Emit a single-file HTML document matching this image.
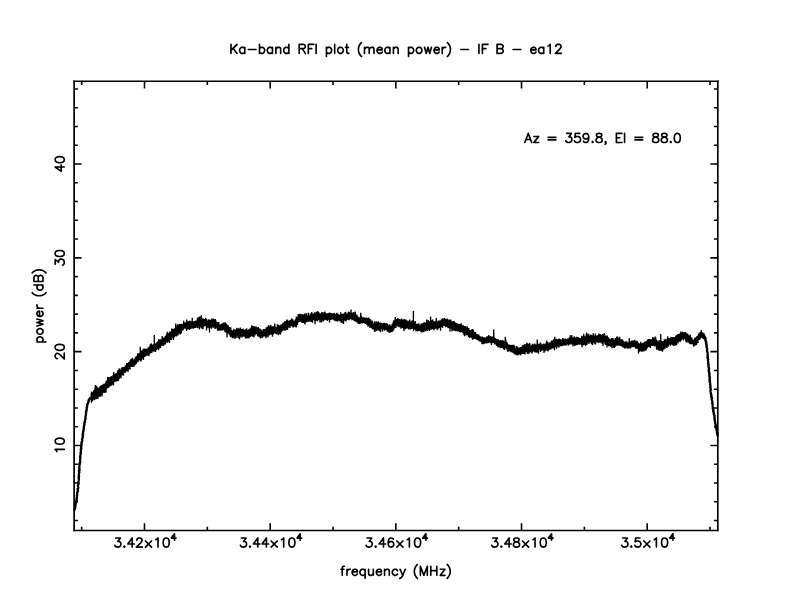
<!DOCTYPE html>
<html><head><meta charset="utf-8"><title>Ka-band RFI plot</title><style>
html,body{margin:0;padding:0;background:#fff;}
svg{display:block;}
</style></head><body>
<svg width="792" height="612" viewBox="0 0 792 612">
<rect width="792" height="612" fill="#fff"/>
<path d="M230.98 44.33L230.98 53.40M237.02 44.33L230.98 50.38M233.14 48.22L237.02 53.40M244.80 47.35L244.80 53.40M244.80 48.65L243.94 47.78L243.07 47.35L241.78 47.35L240.91 47.78L240.05 48.65L239.62 49.94L239.62 50.81L240.05 52.10L240.91 52.97L241.78 53.40L243.07 53.40L243.94 52.97L244.80 52.10M248.26 49.51L256.03 49.51M259.49 44.33L259.49 53.40M259.49 48.65L260.35 47.78L261.22 47.35L262.51 47.35L263.38 47.78L264.24 48.65L264.67 49.94L264.67 50.81L264.24 52.10L263.38 52.97L262.51 53.40L261.22 53.40L260.35 52.97L259.49 52.10M272.45 47.35L272.45 53.40M272.45 48.65L271.58 47.78L270.72 47.35L269.42 47.35L268.56 47.78L267.70 48.65L267.26 49.94L267.26 50.81L267.70 52.10L268.56 52.97L269.42 53.40L270.72 53.40L271.58 52.97L272.45 52.10M275.90 47.35L275.90 53.40M275.90 49.08L277.20 47.78L278.06 47.35L279.36 47.35L280.22 47.78L280.66 49.08L280.66 53.40M288.86 44.33L288.86 53.40M288.86 48.65L288.00 47.78L287.14 47.35L285.84 47.35L284.98 47.78L284.11 48.65L283.68 49.94L283.68 50.81L284.11 52.10L284.98 52.97L285.84 53.40L287.14 53.40L288.00 52.97L288.86 52.10M299.23 44.33L299.23 53.40M299.23 44.33L303.12 44.33L304.42 44.76L304.85 45.19L305.28 46.06L305.28 46.92L304.85 47.78L304.42 48.22L303.12 48.65L299.23 48.65M302.26 48.65L305.28 53.40M308.30 44.33L308.30 53.40M308.30 44.33L313.92 44.33M308.30 48.65L311.76 48.65M316.08 44.33L316.08 53.40M326.45 47.35L326.45 56.42M326.45 48.65L327.31 47.78L328.18 47.35L329.47 47.35L330.34 47.78L331.20 48.65L331.63 49.94L331.63 50.81L331.20 52.10L330.34 52.97L329.47 53.40L328.18 53.40L327.31 52.97L326.45 52.10M334.66 44.33L334.66 53.40M339.84 47.35L338.98 47.78L338.11 48.65L337.68 49.94L337.68 50.81L338.11 52.10L338.98 52.97L339.84 53.40L341.14 53.40L342.00 52.97L342.86 52.10L343.30 50.81L343.30 49.94L342.86 48.65L342.00 47.78L341.14 47.35L339.84 47.35M346.75 44.33L346.75 51.67L347.18 52.97L348.05 53.40L348.91 53.40M345.46 47.35L348.48 47.35M361.44 42.60L360.58 43.46L359.71 44.76L358.85 46.49L358.42 48.65L358.42 50.38L358.85 52.54L359.71 54.26L360.58 55.56L361.44 56.42M364.46 47.35L364.46 53.40M364.46 49.08L365.76 47.78L366.62 47.35L367.92 47.35L368.78 47.78L369.22 49.08L369.22 53.40M369.22 49.08L370.51 47.78L371.38 47.35L372.67 47.35L373.54 47.78L373.97 49.08L373.97 53.40M376.99 49.94L382.18 49.94L382.18 49.08L381.74 48.22L381.31 47.78L380.45 47.35L379.15 47.35L378.29 47.78L377.42 48.65L376.99 49.94L376.99 50.81L377.42 52.10L378.29 52.97L379.15 53.40L380.45 53.40L381.31 52.97L382.18 52.10M389.95 47.35L389.95 53.40M389.95 48.65L389.09 47.78L388.22 47.35L386.93 47.35L386.06 47.78L385.20 48.65L384.77 49.94L384.77 50.81L385.20 52.10L386.06 52.97L386.93 53.40L388.22 53.40L389.09 52.97L389.95 52.10M393.41 47.35L393.41 53.40M393.41 49.08L394.70 47.78L395.57 47.35L396.86 47.35L397.73 47.78L398.16 49.08L398.16 53.40M408.53 47.35L408.53 56.42M408.53 48.65L409.39 47.78L410.26 47.35L411.55 47.35L412.42 47.78L413.28 48.65L413.71 49.94L413.71 50.81L413.28 52.10L412.42 52.97L411.55 53.40L410.26 53.40L409.39 52.97L408.53 52.10M418.46 47.35L417.60 47.78L416.74 48.65L416.30 49.94L416.30 50.81L416.74 52.10L417.60 52.97L418.46 53.40L419.76 53.40L420.62 52.97L421.49 52.10L421.92 50.81L421.92 49.94L421.49 48.65L420.62 47.78L419.76 47.35L418.46 47.35M424.51 47.35L426.24 53.40M427.97 47.35L426.24 53.40M427.97 47.35L429.70 53.40M431.42 47.35L429.70 53.40M434.02 49.94L439.20 49.94L439.20 49.08L438.77 48.22L438.34 47.78L437.47 47.35L436.18 47.35L435.31 47.78L434.45 48.65L434.02 49.94L434.02 50.81L434.45 52.10L435.31 52.97L436.18 53.40L437.47 53.40L438.34 52.97L439.20 52.10M442.22 47.35L442.22 53.40M442.22 49.94L442.66 48.65L443.52 47.78L444.38 47.35L445.68 47.35M447.41 42.60L448.27 43.46L449.14 44.76L450.00 46.49L450.43 48.65L450.43 50.38L450.00 52.54L449.14 54.26L448.27 55.56L447.41 56.42M460.80 49.51L468.58 49.51M478.94 44.33L478.94 53.40M482.40 44.33L482.40 53.40M482.40 44.33L488.02 44.33M482.40 48.65L485.86 48.65M497.09 44.33L497.09 53.40M497.09 44.33L500.98 44.33L502.27 44.76L502.70 45.19L503.14 46.06L503.14 46.92L502.70 47.78L502.27 48.22L500.98 48.65M497.09 48.65L500.98 48.65L502.27 49.08L502.70 49.51L503.14 50.38L503.14 51.67L502.70 52.54L502.27 52.97L500.98 53.40L497.09 53.40M513.07 49.51L520.85 49.51M530.78 49.94L535.97 49.94L535.97 49.08L535.54 48.22L535.10 47.78L534.24 47.35L532.94 47.35L532.08 47.78L531.22 48.65L530.78 49.94L530.78 50.81L531.22 52.10L532.08 52.97L532.94 53.40L534.24 53.40L535.10 52.97L535.97 52.10M543.74 47.35L543.74 53.40M543.74 48.65L542.88 47.78L542.02 47.35L540.72 47.35L539.86 47.78L538.99 48.65L538.56 49.94L538.56 50.81L538.99 52.10L539.86 52.97L540.72 53.40L542.02 53.40L542.88 52.97L543.74 52.10M548.06 46.06L548.93 45.62L550.22 44.33L550.22 53.40M555.84 46.49L555.84 46.06L556.27 45.19L556.70 44.76L557.57 44.33L559.30 44.33L560.16 44.76L560.59 45.19L561.02 46.06L561.02 46.92L560.59 47.78L559.73 49.08L555.41 53.40L561.46 53.40M344.38 566.23L343.51 566.23L342.65 566.66L342.22 567.96L342.22 575.30M340.92 569.25L343.94 569.25M346.97 569.25L346.97 575.30M346.97 571.84L347.40 570.55L348.26 569.68L349.13 569.25L350.42 569.25M352.15 571.84L357.34 571.84L357.34 570.98L356.90 570.12L356.47 569.68L355.61 569.25L354.31 569.25L353.45 569.68L352.58 570.55L352.15 571.84L352.15 572.71L352.58 574.00L353.45 574.87L354.31 575.30L355.61 575.30L356.47 574.87L357.34 574.00M365.11 569.25L365.11 578.32M365.11 570.55L364.25 569.68L363.38 569.25L362.09 569.25L361.22 569.68L360.36 570.55L359.93 571.84L359.93 572.71L360.36 574.00L361.22 574.87L362.09 575.30L363.38 575.30L364.25 574.87L365.11 574.00M368.57 569.25L368.57 573.57L369.00 574.87L369.86 575.30L371.16 575.30L372.02 574.87L373.32 573.57M373.32 569.25L373.32 575.30M376.34 571.84L381.53 571.84L381.53 570.98L381.10 570.12L380.66 569.68L379.80 569.25L378.50 569.25L377.64 569.68L376.78 570.55L376.34 571.84L376.34 572.71L376.78 574.00L377.64 574.87L378.50 575.30L379.80 575.30L380.66 574.87L381.53 574.00M384.55 569.25L384.55 575.30M384.55 570.98L385.85 569.68L386.71 569.25L388.01 569.25L388.87 569.68L389.30 570.98L389.30 575.30M397.51 570.55L396.65 569.68L395.78 569.25L394.49 569.25L393.62 569.68L392.76 570.55L392.33 571.84L392.33 572.71L392.76 574.00L393.62 574.87L394.49 575.30L395.78 575.30L396.65 574.87L397.51 574.00M400.10 569.25L402.70 575.30M405.29 569.25L402.70 575.30L401.83 577.03L400.97 577.89L400.10 578.32L399.67 578.32M417.38 564.50L416.52 565.36L415.66 566.66L414.79 568.39L414.36 570.55L414.36 572.28L414.79 574.44L415.66 576.16L416.52 577.46L417.38 578.32M420.41 566.23L420.41 575.30M420.41 566.23L423.86 575.30M427.32 566.23L423.86 575.30M427.32 566.23L427.32 575.30M430.78 566.23L430.78 575.30M436.82 566.23L436.82 575.30M430.78 570.55L436.82 570.55M445.03 569.25L440.28 575.30M440.28 569.25L445.03 569.25M440.28 575.30L445.03 575.30M447.19 564.50L448.06 565.36L448.92 566.66L449.78 568.39L450.22 570.55L450.22 572.28L449.78 574.44L448.92 576.16L448.06 577.46L447.19 578.32M528.25 133.43L524.79 142.50M528.25 133.43L531.70 142.50M526.09 139.48L530.41 139.48M538.62 136.45L533.86 142.50M533.86 136.45L538.62 136.45M533.86 142.50L538.62 142.50M548.12 137.32L555.90 137.32M548.12 139.91L555.90 139.91M566.70 133.43L571.45 133.43L568.86 136.88L570.15 136.88L571.02 137.32L571.45 137.75L571.88 139.04L571.88 139.91L571.45 141.20L570.58 142.07L569.29 142.50L567.99 142.50L566.70 142.07L566.26 141.64L565.83 140.77M579.66 133.43L575.34 133.43L574.90 137.32L575.34 136.88L576.63 136.45L577.93 136.45L579.22 136.88L580.09 137.75L580.52 139.04L580.52 139.91L580.09 141.20L579.22 142.07L577.93 142.50L576.63 142.50L575.34 142.07L574.90 141.64L574.47 140.77M588.73 136.45L588.30 137.75L587.43 138.61L586.14 139.04L585.70 139.04L584.41 138.61L583.54 137.75L583.11 136.45L583.11 136.02L583.54 134.72L584.41 133.86L585.70 133.43L586.14 133.43L587.43 133.86L588.30 134.72L588.73 136.45L588.73 138.61L588.30 140.77L587.43 142.07L586.14 142.50L585.27 142.50L583.98 142.07L583.54 141.20M592.62 141.64L592.18 142.07L592.62 142.50L593.05 142.07L592.62 141.64M598.23 133.43L596.94 133.86L596.50 134.72L596.50 135.59L596.94 136.45L597.80 136.88L599.53 137.32L600.82 137.75L601.69 138.61L602.12 139.48L602.12 140.77L601.69 141.64L601.26 142.07L599.96 142.50L598.23 142.50L596.94 142.07L596.50 141.64L596.07 140.77L596.07 139.48L596.50 138.61L597.37 137.75L598.66 137.32L600.39 136.88L601.26 136.45L601.69 135.59L601.69 134.72L601.26 133.86L599.96 133.43L598.23 133.43M606.01 142.07L605.58 142.50L605.14 142.07L605.58 141.64L606.01 142.07L606.01 142.93L605.58 143.80L605.14 144.23M616.38 133.43L616.38 142.50M616.38 133.43L621.99 133.43M616.38 137.75L619.83 137.75M616.38 142.50L621.99 142.50M624.58 133.43L624.58 142.50M634.95 137.32L642.73 137.32M634.95 139.91L642.73 139.91M654.82 133.43L653.53 133.86L653.10 134.72L653.10 135.59L653.53 136.45L654.39 136.88L656.12 137.32L657.42 137.75L658.28 138.61L658.71 139.48L658.71 140.77L658.28 141.64L657.85 142.07L656.55 142.50L654.82 142.50L653.53 142.07L653.10 141.64L652.66 140.77L652.66 139.48L653.10 138.61L653.96 137.75L655.26 137.32L656.98 136.88L657.85 136.45L658.28 135.59L658.28 134.72L657.85 133.86L656.55 133.43L654.82 133.43M663.46 133.43L662.17 133.86L661.74 134.72L661.74 135.59L662.17 136.45L663.03 136.88L664.76 137.32L666.06 137.75L666.92 138.61L667.35 139.48L667.35 140.77L666.92 141.64L666.49 142.07L665.19 142.50L663.46 142.50L662.17 142.07L661.74 141.64L661.30 140.77L661.30 139.48L661.74 138.61L662.60 137.75L663.90 137.32L665.62 136.88L666.49 136.45L666.92 135.59L666.92 134.72L666.49 133.86L665.19 133.43L663.46 133.43M670.81 141.64L670.38 142.07L670.81 142.50L671.24 142.07L670.81 141.64M676.86 133.43L675.56 133.86L674.70 135.16L674.26 137.32L674.26 138.61L674.70 140.77L675.56 142.07L676.86 142.50L677.72 142.50L679.02 142.07L679.88 140.77L680.31 138.61L680.31 137.32L679.88 135.16L679.02 133.86L677.72 133.43L676.86 133.43M115.68 537.98L120.43 537.98L117.84 541.43L119.14 541.43L120.00 541.87L120.43 542.30L120.86 543.59L120.86 544.46L120.43 545.75L119.57 546.62L118.27 547.05L116.98 547.05L115.68 546.62L115.25 546.19L114.82 545.32M124.32 546.19L123.89 546.62L124.32 547.05L124.75 546.62L124.32 546.19M132.10 537.98L127.78 544.03L134.26 544.03M132.10 537.98L132.10 547.05M136.85 540.14L136.85 539.71L137.28 538.84L137.71 538.41L138.58 537.98L140.30 537.98L141.17 538.41L141.60 538.84L142.03 539.71L142.03 540.57L141.60 541.43L140.74 542.73L136.42 547.05L142.46 547.05M145.49 541.00L151.54 547.05M151.54 541.00L145.49 547.05M155.86 539.71L156.72 539.27L158.02 537.98L158.02 547.05M165.79 537.98L164.50 538.41L163.63 539.71L163.20 541.87L163.20 543.16L163.63 545.32L164.50 546.62L165.79 547.05L166.66 547.05L167.95 546.62L168.82 545.32L169.25 543.16L169.25 541.87L168.82 539.71L167.95 538.41L166.66 537.98L165.79 537.98M174.53 533.81L171.46 538.10L176.07 538.10M174.53 533.81L174.53 540.25M241.36 537.98L246.11 537.98L243.52 541.43L244.81 541.43L245.68 541.87L246.11 542.30L246.54 543.59L246.54 544.46L246.11 545.75L245.24 546.62L243.95 547.05L242.65 547.05L241.36 546.62L240.92 546.19L240.49 545.32M250.00 546.19L249.56 546.62L250.00 547.05L250.43 546.62L250.00 546.19M257.77 537.98L253.45 544.03L259.93 544.03M257.77 537.98L257.77 547.05M266.41 537.98L262.09 544.03L268.57 544.03M266.41 537.98L266.41 547.05M271.16 541.00L277.21 547.05M277.21 541.00L271.16 547.05M281.53 539.71L282.40 539.27L283.69 537.98L283.69 547.05M291.47 537.98L290.17 538.41L289.31 539.71L288.88 541.87L288.88 543.16L289.31 545.32L290.17 546.62L291.47 547.05L292.33 547.05L293.63 546.62L294.49 545.32L294.92 543.16L294.92 541.87L294.49 539.71L293.63 538.41L292.33 537.98L291.47 537.98M300.21 533.81L297.14 538.10L301.74 538.10M300.21 533.81L300.21 540.25M367.03 537.98L371.78 537.98L369.19 541.43L370.49 541.43L371.35 541.87L371.78 542.30L372.22 543.59L372.22 544.46L371.78 545.75L370.92 546.62L369.62 547.05L368.33 547.05L367.03 546.62L366.60 546.19L366.17 545.32M375.67 546.19L375.24 546.62L375.67 547.05L376.10 546.62L375.67 546.19M383.45 537.98L379.13 544.03L385.61 544.03M383.45 537.98L383.45 547.05M393.38 539.27L392.95 538.41L391.66 537.98L390.79 537.98L389.50 538.41L388.63 539.71L388.20 541.87L388.20 544.03L388.63 545.75L389.50 546.62L390.79 547.05L391.22 547.05L392.52 546.62L393.38 545.75L393.82 544.46L393.82 544.03L393.38 542.73L392.52 541.87L391.22 541.43L390.79 541.43L389.50 541.87L388.63 542.73L388.20 544.03M396.84 541.00L402.89 547.05M402.89 541.00L396.84 547.05M407.21 539.71L408.07 539.27L409.37 537.98L409.37 547.05M417.14 537.98L415.85 538.41L414.98 539.71L414.55 541.87L414.55 543.16L414.98 545.32L415.85 546.62L417.14 547.05L418.01 547.05L419.30 546.62L420.17 545.32L420.60 543.16L420.60 541.87L420.17 539.71L419.30 538.41L418.01 537.98L417.14 537.98M425.88 533.81L422.82 538.10L427.42 538.10M425.88 533.81L425.88 540.25M492.71 537.98L497.46 537.98L494.87 541.43L496.16 541.43L497.03 541.87L497.46 542.30L497.89 543.59L497.89 544.46L497.46 545.75L496.60 546.62L495.30 547.05L494.00 547.05L492.71 546.62L492.28 546.19L491.84 545.32M501.35 546.19L500.92 546.62L501.35 547.05L501.78 546.62L501.35 546.19M509.12 537.98L504.80 544.03L511.28 544.03M509.12 537.98L509.12 547.05M515.60 537.98L514.31 538.41L513.88 539.27L513.88 540.14L514.31 541.00L515.17 541.43L516.90 541.87L518.20 542.30L519.06 543.16L519.49 544.03L519.49 545.32L519.06 546.19L518.63 546.62L517.33 547.05L515.60 547.05L514.31 546.62L513.88 546.19L513.44 545.32L513.44 544.03L513.88 543.16L514.74 542.30L516.04 541.87L517.76 541.43L518.63 541.00L519.06 540.14L519.06 539.27L518.63 538.41L517.33 537.98L515.60 537.98M522.52 541.00L528.56 547.05M528.56 541.00L522.52 547.05M532.88 539.71L533.75 539.27L535.04 537.98L535.04 547.05M542.82 537.98L541.52 538.41L540.66 539.71L540.23 541.87L540.23 543.16L540.66 545.32L541.52 546.62L542.82 547.05L543.68 547.05L544.98 546.62L545.84 545.32L546.28 543.16L546.28 541.87L545.84 539.71L544.98 538.41L543.68 537.98L542.82 537.98M551.56 533.81L548.49 538.10L553.09 538.10M551.56 533.81L551.56 540.25M622.70 537.98L627.46 537.98L624.86 541.43L626.16 541.43L627.02 541.87L627.46 542.30L627.89 543.59L627.89 544.46L627.46 545.75L626.59 546.62L625.30 547.05L624.00 547.05L622.70 546.62L622.27 546.19L621.84 545.32M631.34 546.19L630.91 546.62L631.34 547.05L631.78 546.62L631.34 546.19M639.98 537.98L635.66 537.98L635.23 541.87L635.66 541.43L636.96 541.00L638.26 541.00L639.55 541.43L640.42 542.30L640.85 543.59L640.85 544.46L640.42 545.75L639.55 546.62L638.26 547.05L636.96 547.05L635.66 546.62L635.23 546.19L634.80 545.32M643.87 541.00L649.92 547.05M649.92 541.00L643.87 547.05M654.24 539.71L655.10 539.27L656.40 537.98L656.40 547.05M664.18 537.98L662.88 538.41L662.02 539.71L661.58 541.87L661.58 543.16L662.02 545.32L662.88 546.62L664.18 547.05L665.04 547.05L666.34 546.62L667.20 545.32L667.63 543.16L667.63 541.87L667.20 539.71L666.34 538.41L665.04 537.98L664.18 537.98M672.92 533.81L669.85 538.10L674.45 538.10M672.92 533.81L672.92 540.25M56.91 451.54L56.47 450.67L55.18 449.38L64.25 449.38M55.18 441.60L55.61 442.90L56.91 443.76L59.07 444.19L60.36 444.19L62.52 443.76L63.82 442.90L64.25 441.60L64.25 440.74L63.82 439.44L62.52 438.58L60.36 438.15L59.07 438.15L56.91 438.58L55.61 439.44L55.18 440.74L55.18 441.60M57.34 358.57L56.91 358.57L56.04 358.14L55.61 357.71L55.18 356.84L55.18 355.12L55.61 354.25L56.04 353.82L56.91 353.39L57.77 353.39L58.63 353.82L59.93 354.68L64.25 359.00L64.25 352.96M55.18 347.77L55.61 349.07L56.91 349.93L59.07 350.36L60.36 350.36L62.52 349.93L63.82 349.07L64.25 347.77L64.25 346.91L63.82 345.61L62.52 344.75L60.36 344.32L59.07 344.32L56.91 344.75L55.61 345.61L55.18 346.91L55.18 347.77M55.18 264.31L55.18 259.56L58.63 262.15L58.63 260.85L59.07 259.99L59.50 259.56L60.79 259.13L61.66 259.13L62.95 259.56L63.82 260.42L64.25 261.72L64.25 263.01L63.82 264.31L63.39 264.74L62.52 265.17M55.18 253.94L55.61 255.24L56.91 256.10L59.07 256.53L60.36 256.53L62.52 256.10L63.82 255.24L64.25 253.94L64.25 253.08L63.82 251.78L62.52 250.92L60.36 250.49L59.07 250.49L56.91 250.92L55.61 251.78L55.18 253.08L55.18 253.94M55.18 167.02L61.23 171.34L61.23 164.86M55.18 167.02L64.25 167.02M55.18 160.11L55.61 161.41L56.91 162.27L59.07 162.70L60.36 162.70L62.52 162.27L63.82 161.41L64.25 160.11L64.25 159.25L63.82 157.95L62.52 157.09L60.36 156.66L59.07 156.66L56.91 157.09L55.61 157.95L55.18 159.25L55.18 160.11M36.95 341.97L46.02 341.97M38.25 341.97L37.38 341.11L36.95 340.24L36.95 338.95L37.38 338.08L38.25 337.22L39.54 336.79L40.41 336.79L41.70 337.22L42.57 338.08L43.00 338.95L43.00 340.24L42.57 341.11L41.70 341.97M36.95 332.04L37.38 332.90L38.25 333.76L39.54 334.20L40.41 334.20L41.70 333.76L42.57 332.90L43.00 332.04L43.00 330.74L42.57 329.88L41.70 329.01L40.41 328.58L39.54 328.58L38.25 329.01L37.38 329.88L36.95 330.74L36.95 332.04M36.95 325.99L43.00 324.26M36.95 322.53L43.00 324.26M36.95 322.53L43.00 320.80M36.95 319.08L43.00 320.80M39.54 316.48L39.54 311.30L38.68 311.30L37.82 311.73L37.38 312.16L36.95 313.03L36.95 314.32L37.38 315.19L38.25 316.05L39.54 316.48L40.41 316.48L41.70 316.05L42.57 315.19L43.00 314.32L43.00 313.03L42.57 312.16L41.70 311.30M36.95 308.28L43.00 308.28M39.54 308.28L38.25 307.84L37.38 306.98L36.95 306.12L36.95 304.82M32.20 292.72L33.06 293.59L34.36 294.45L36.09 295.32L38.25 295.75L39.98 295.75L42.14 295.32L43.86 294.45L45.16 293.59L46.02 292.72M33.93 284.95L43.00 284.95M38.25 284.95L37.38 285.81L36.95 286.68L36.95 287.97L37.38 288.84L38.25 289.70L39.54 290.13L40.41 290.13L41.70 289.70L42.57 288.84L43.00 287.97L43.00 286.68L42.57 285.81L41.70 284.95M33.93 281.49L43.00 281.49M33.93 281.49L33.93 277.60L34.36 276.31L34.79 275.88L35.66 275.44L36.52 275.44L37.38 275.88L37.82 276.31L38.25 277.60M38.25 281.49L38.25 277.60L38.68 276.31L39.11 275.88L39.98 275.44L41.27 275.44L42.14 275.88L42.57 276.31L43.00 277.60L43.00 281.49M32.20 272.85L33.06 271.99L34.36 271.12L36.09 270.26L38.25 269.83L39.98 269.83L42.14 270.26L43.86 271.12L45.16 271.99L46.02 272.85" fill="none" stroke="#000" stroke-width="1.65" stroke-linecap="round" stroke-linejoin="round"/>
<path d="M74.1 80.45V531.20M717.8 80.45V531.20" fill="none" stroke="#000" stroke-width="1.7"/>
<path d="M73.25 81.25H718.65" fill="none" stroke="#000" stroke-width="1.55"/>
<path d="M73.25 530.5H718.65" fill="none" stroke="#000" stroke-width="1.4"/>
<path d="M81.66 530.50V526.70M81.66 81.25V85.05M144.50 530.50V523.30M144.50 81.25V88.45M207.34 530.50V526.70M207.34 81.25V85.05M270.18 530.50V523.30M270.18 81.25V88.45M333.01 530.50V526.70M333.01 81.25V85.05M395.85 530.50V523.30M395.85 81.25V88.45M458.69 530.50V526.70M458.69 81.25V85.05M521.53 530.50V523.30M521.53 81.25V88.45M584.37 530.50V526.70M584.37 81.25V85.05M647.20 530.50V523.30M647.20 81.25V88.45M710.04 530.50V526.70M710.04 81.25V85.05M74.10 520.55H77.90M717.80 520.55H714.00M74.10 501.79H77.90M717.80 501.79H714.00M74.10 483.02H77.90M717.80 483.02H714.00M74.10 464.26H77.90M717.80 464.26H714.00M74.10 445.49H81.50M717.80 445.49H710.40M74.10 426.72H77.90M717.80 426.72H714.00M74.10 407.96H77.90M717.80 407.96H714.00M74.10 389.19H77.90M717.80 389.19H714.00M74.10 370.43H77.90M717.80 370.43H714.00M74.10 351.66H81.50M717.80 351.66H710.40M74.10 332.89H77.90M717.80 332.89H714.00M74.10 314.13H77.90M717.80 314.13H714.00M74.10 295.36H77.90M717.80 295.36H714.00M74.10 276.60H77.90M717.80 276.60H714.00M74.10 257.83H81.50M717.80 257.83H710.40M74.10 239.06H77.90M717.80 239.06H714.00M74.10 220.30H77.90M717.80 220.30H714.00M74.10 201.53H77.90M717.80 201.53H714.00M74.10 182.77H77.90M717.80 182.77H714.00M74.10 164.00H81.50M717.80 164.00H710.40M74.10 145.23H77.90M717.80 145.23H714.00M74.10 126.47H77.90M717.80 126.47H714.00M74.10 107.70H77.90M717.80 107.70H714.00M74.10 88.94H77.90M717.80 88.94H714.00" fill="none" stroke="#000" stroke-width="1.6"/>
<path d="M87.00 406.5 88.50 401.0 90.00 398.0 91.00 400.0 91.25 392.7 91.50 402.7 91.75 391.4 92.00 400.7 92.25 393.2 92.50 401.2 92.75 392.3 93.00 399.9 93.25 392.2 93.50 399.8 93.75 390.3 94.00 399.5 94.25 390.0 94.50 400.3 94.75 388.8 95.00 399.4 95.25 385.1 95.50 398.8 95.75 389.3 96.00 399.1 96.25 385.7 96.50 399.0 96.75 386.6 97.00 396.9 97.25 388.8 97.50 398.4 97.75 387.4 98.00 398.8 98.25 388.6 98.50 396.5 98.75 387.9 99.00 396.4 99.25 388.7 99.50 396.1 99.75 386.5 100.00 397.0 100.25 387.5 100.50 396.1 100.75 385.4 101.00 394.2 101.25 387.9 101.50 393.8 101.75 384.9 102.00 396.6 102.25 385.5 102.50 393.4 102.75 384.4 103.00 393.0 103.25 386.1 103.50 392.4 103.75 383.7 104.00 392.6 104.25 384.1 104.50 392.0 104.75 384.4 105.00 392.9 105.25 383.2 105.50 391.9 105.75 382.1 106.00 392.6 106.25 380.7 106.50 389.0 106.75 381.4 107.00 387.6 107.25 379.8 107.50 388.2 107.75 376.8 108.00 387.6 108.25 379.6 108.50 387.7 108.75 377.9 109.00 387.5 109.25 376.9 109.50 386.1 109.75 379.2 110.00 385.1 110.25 379.1 110.50 386.3 110.75 376.7 111.00 386.1 111.25 375.9 111.50 383.7 111.75 377.9 112.00 384.9 112.25 378.4 112.50 383.6 112.75 375.6 113.00 384.0 113.25 375.2 113.50 385.6 113.75 372.1 114.00 382.3 114.25 375.3 114.50 380.8 114.75 375.5 115.00 381.8 115.25 373.7 115.50 380.9 115.75 374.8 116.00 381.7 116.25 372.9 116.50 380.8 116.75 374.0 117.00 379.6 117.25 373.3 117.50 381.2 117.75 370.4 118.00 378.2 118.25 369.9 118.50 380.8 118.75 370.5 119.00 377.8 119.25 368.3 119.50 378.8 119.75 371.3 120.00 375.9 120.25 370.1 120.50 376.9 120.75 370.7 121.00 378.3 121.25 368.3 121.50 375.5 121.75 368.3 122.00 373.9 122.25 367.0 122.50 375.1 122.75 368.8 123.00 375.1 123.25 367.4 123.50 375.7 123.75 367.1 124.00 372.8 124.25 367.1 124.50 372.8 124.75 367.2 125.00 372.1 125.25 365.8 125.50 372.7 125.75 365.3 126.00 371.4 126.25 366.5 126.50 371.0 126.75 363.0 127.00 370.4 127.25 363.4 127.50 370.8 127.75 363.1 128.00 372.1 128.25 363.3 128.50 370.1 128.75 362.1 129.00 368.6 129.25 361.8 129.50 367.6 129.75 361.9 130.00 369.5 130.25 360.0 130.50 366.4 130.75 359.2 131.00 366.3 131.25 359.6 131.50 367.0 131.75 359.0 132.00 366.4 132.25 357.7 132.50 367.0 132.75 359.8 133.00 365.3 133.25 360.1 133.50 365.2 133.75 359.5 134.00 366.7 134.25 358.8 134.50 365.9 134.75 359.2 135.00 364.5 135.25 357.5 135.50 364.8 135.75 357.2 136.00 363.9 136.25 356.1 136.50 363.4 136.75 356.7 137.00 362.3 137.25 355.9 137.50 361.5 137.75 353.3 138.00 361.9 138.25 353.8 138.50 360.6 138.75 353.6 139.00 359.4 139.25 353.2 139.50 360.3 139.75 353.2 140.00 359.8 140.25 346.7 140.50 361.2 140.75 353.2 141.00 361.4 141.25 350.8 141.50 359.9 141.75 350.4 142.00 357.9 142.25 352.0 142.50 358.7 142.75 349.6 143.00 357.0 143.25 352.1 143.50 360.1 143.75 348.5 144.00 357.1 144.25 348.9 144.50 357.0 144.75 348.6 145.00 355.6 145.25 349.3 145.50 356.4 145.75 349.0 146.00 355.3 146.25 348.7 146.50 355.6 146.75 349.1 147.00 355.2 147.25 348.8 147.50 355.1 147.75 348.6 148.00 355.5 148.25 347.3 148.50 355.6 148.75 347.4 149.00 356.2 149.25 347.3 149.50 353.6 149.75 346.1 150.00 353.8 150.25 344.2 150.50 353.5 150.75 347.6 151.00 353.0 151.25 343.2 151.50 353.0 151.75 344.3 152.00 352.4 152.25 344.8 152.50 351.2 152.75 345.5 153.00 351.0 153.25 344.7 153.50 351.3 153.75 344.0 154.00 351.8 154.25 344.4 154.50 350.5 154.75 344.9 155.00 349.7 155.25 343.4 155.50 351.9 155.75 343.6 156.00 349.7 156.25 344.0 156.50 349.9 156.75 342.3 157.00 348.9 157.25 342.0 157.50 348.4 157.75 341.6 158.00 347.8 158.25 340.4 158.50 350.2 158.75 339.0 159.00 347.5 159.25 342.0 159.50 348.4 159.75 340.1 160.00 347.3 160.25 339.2 160.50 347.9 160.75 339.2 161.00 346.3 161.25 339.9 161.50 344.8 161.75 339.4 162.00 344.9 162.25 336.1 162.50 345.6 162.75 339.3 163.00 344.7 163.25 337.7 163.50 346.0 163.75 337.4 164.00 344.6 164.25 337.4 164.50 343.7 164.75 337.6 165.00 344.7 165.25 336.1 165.50 344.1 165.75 335.4 166.00 341.9 166.25 335.8 166.50 342.2 166.75 333.8 167.00 341.8 167.25 331.7 167.50 342.8 167.75 333.4 168.00 341.5 168.25 333.0 168.50 340.7 168.75 334.2 169.00 342.1 169.25 332.8 169.50 342.9 169.75 331.6 170.00 340.1 170.25 332.1 170.50 340.1 170.75 332.2 171.00 338.8 171.25 331.6 171.50 339.9 171.75 328.4 172.00 337.3 172.25 332.0 172.50 337.7 172.75 329.5 173.00 337.5 173.25 328.8 173.50 340.1 173.75 328.8 174.00 337.4 174.25 329.9 174.50 336.8 174.75 328.2 175.00 335.4 175.25 329.7 175.50 336.3 175.75 323.6 176.00 335.8 176.25 328.2 176.50 336.5 176.75 327.6 177.00 334.2 177.25 325.6 177.50 335.2 177.75 324.3 178.00 335.4 178.25 328.0 178.50 332.8 178.75 325.4 179.00 332.4 179.25 324.0 179.50 333.4 179.75 324.1 180.00 334.5 180.25 324.0 180.50 334.4 180.75 324.5 181.00 330.6 181.25 324.2 181.50 333.2 181.75 323.7 182.00 330.3 182.25 324.7 182.50 329.4 182.75 324.4 183.00 330.4 183.25 323.7 183.50 329.3 183.75 320.7 184.00 328.8 184.25 322.6 184.50 328.4 184.75 323.0 185.00 328.5 185.25 322.8 185.50 327.8 185.75 322.2 186.00 328.7 186.25 323.3 186.50 331.0 186.75 319.4 187.00 328.1 187.25 322.6 187.50 329.4 187.75 322.2 188.00 328.7 188.25 321.3 188.50 329.3 188.75 322.5 189.00 328.6 189.25 320.9 189.50 330.0 189.75 320.5 190.00 329.3 190.25 321.4 190.50 327.0 190.75 322.0 191.00 328.7 191.25 322.2 191.50 327.0 191.75 321.4 192.00 328.6 192.25 317.8 192.50 328.3 192.75 321.6 193.00 326.4 193.25 321.1 193.50 328.7 193.75 321.4 194.00 327.4 194.25 322.3 194.50 326.9 194.75 321.0 195.00 328.0 195.25 321.3 195.50 328.1 195.75 320.5 196.00 327.2 196.25 321.1 196.50 327.5 196.75 321.1 197.00 326.7 197.25 318.5 197.50 328.2 197.75 317.6 198.00 326.1 198.25 317.8 198.50 326.7 198.75 320.1 199.00 328.3 199.25 316.6 199.50 329.6 199.75 319.3 200.00 325.9 200.25 316.8 200.50 327.3 200.75 316.7 201.00 327.4 201.25 315.2 201.50 327.4 201.75 317.5 202.00 328.7 202.25 318.8 202.50 328.6 202.75 318.8 203.00 329.3 203.25 318.4 203.50 327.0 203.75 320.3 204.00 326.2 204.25 319.0 204.50 324.8 204.75 319.2 205.00 326.0 205.25 320.0 205.50 326.0 205.75 317.8 206.00 326.0 206.25 318.9 206.50 330.4 206.75 321.3 207.00 327.3 207.25 320.8 207.50 326.0 207.75 320.6 208.00 328.3 208.25 319.2 208.50 325.8 208.75 319.9 209.00 325.9 209.25 321.1 209.50 332.6 209.75 319.4 210.00 326.0 210.25 320.4 210.50 326.7 210.75 319.9 211.00 328.1 211.25 320.1 211.50 328.8 211.75 318.6 212.00 326.2 212.25 321.1 212.50 326.3 212.75 319.8 213.00 327.6 213.25 318.4 213.50 327.8 213.75 319.1 214.00 327.4 214.25 319.2 214.50 327.2 214.75 319.5 215.00 328.9 215.25 319.0 215.50 328.5 215.75 320.2 216.00 327.0 216.25 321.4 216.50 328.3 216.75 321.8 217.00 327.9 217.25 322.0 217.50 330.0 217.75 322.6 218.00 331.1 218.25 324.0 218.50 329.2 218.75 322.1 219.00 330.4 219.25 324.6 219.50 329.2 219.75 324.7 220.00 330.7 220.25 324.8 220.50 330.4 220.75 324.3 221.00 329.7 221.25 324.1 221.50 330.6 221.75 323.6 222.00 330.5 222.25 324.9 222.50 330.5 222.75 323.3 223.00 329.2 223.25 323.8 223.50 329.5 223.75 322.5 224.00 330.3 224.25 323.7 224.50 330.0 224.75 323.7 225.00 332.1 225.25 322.3 225.50 332.5 225.75 322.9 226.00 330.4 226.25 323.9 226.50 331.2 226.75 324.0 227.00 337.5 227.25 325.2 227.50 333.6 227.75 325.5 228.00 332.7 228.25 325.3 228.50 333.1 228.75 327.7 229.00 334.1 229.25 327.0 229.50 334.8 229.75 328.1 230.00 335.5 230.25 327.4 230.50 337.1 230.75 327.2 231.00 335.7 231.25 330.1 231.50 335.5 231.75 330.2 232.00 337.8 232.25 330.6 232.50 338.3 232.75 331.7 233.00 338.0 233.25 330.3 233.50 337.8 233.75 328.8 234.00 337.7 234.25 330.8 234.50 335.7 234.75 329.9 235.00 338.9 235.25 329.7 235.50 336.5 235.75 329.6 236.00 338.0 236.25 330.3 236.50 335.9 236.75 327.7 237.00 336.6 237.25 329.5 237.50 336.2 237.75 329.9 238.00 337.9 238.25 328.2 238.50 335.9 238.75 328.4 239.00 338.2 239.25 329.2 239.50 339.4 239.75 330.0 240.00 337.4 240.25 327.6 240.50 335.7 240.75 329.5 241.00 335.8 241.25 330.0 241.50 337.5 241.75 328.7 242.00 337.6 242.25 329.0 242.50 336.2 242.75 330.6 243.00 336.3 243.25 328.7 243.50 335.5 243.75 329.7 244.00 336.7 244.25 330.4 244.50 336.8 244.75 329.7 245.00 336.5 245.25 330.8 245.50 338.6 245.75 329.3 246.00 337.1 246.25 330.7 246.50 337.7 246.75 328.2 247.00 338.5 247.25 330.4 247.50 338.0 247.75 330.6 248.00 338.1 248.25 330.0 248.50 335.8 248.75 329.3 249.00 338.4 249.25 329.6 249.50 335.9 249.75 329.7 250.00 335.7 250.25 327.8 250.50 336.9 250.75 329.2 251.00 335.5 251.25 329.4 251.50 335.5 251.75 325.3 252.00 336.2 252.25 326.0 252.50 334.1 252.75 325.9 253.00 336.8 253.25 326.5 253.50 333.8 253.75 325.9 254.00 337.5 254.25 326.4 254.50 334.4 254.75 327.3 255.00 335.6 255.25 326.4 255.50 333.6 255.75 327.9 256.00 332.8 256.25 326.5 256.50 334.0 256.75 328.2 257.00 334.3 257.25 327.6 257.50 336.2 257.75 327.8 258.00 334.3 258.25 326.9 258.50 335.9 258.75 328.1 259.00 337.3 259.25 328.7 259.50 335.6 259.75 330.0 260.00 336.6 260.25 328.7 260.50 338.4 260.75 330.9 261.00 336.3 261.25 329.7 261.50 336.5 261.75 331.0 262.00 337.9 262.25 331.3 262.50 337.4 262.75 330.7 263.00 337.0 263.25 329.1 263.50 336.3 263.75 329.9 264.00 336.2 264.25 329.5 264.50 336.6 264.75 329.1 265.00 335.2 265.25 328.9 265.50 336.4 265.75 330.1 266.00 338.3 266.25 327.6 266.50 336.4 266.75 327.7 267.00 335.3 267.25 326.6 267.50 334.2 267.75 327.4 268.00 337.6 268.25 329.0 268.50 335.0 268.75 325.0 269.00 333.5 269.25 327.2 269.50 335.6 269.75 327.7 270.00 333.2 270.25 326.3 270.50 334.5 270.75 324.8 271.00 334.1 271.25 328.0 271.50 334.8 271.75 327.3 272.00 334.0 272.25 326.2 272.50 336.8 272.75 326.7 273.00 333.1 273.25 326.8 273.50 334.2 273.75 326.1 274.00 333.4 274.25 326.7 274.50 332.9 274.75 323.5 275.00 332.8 275.25 326.7 275.50 333.5 275.75 327.4 276.00 334.1 276.25 327.4 276.50 333.8 276.75 327.3 277.00 334.5 277.25 324.3 277.50 333.8 277.75 327.7 278.00 333.2 278.25 324.7 278.50 335.2 278.75 325.1 279.00 333.0 279.25 326.1 279.50 334.1 279.75 325.6 280.00 334.0 280.25 326.1 280.50 334.6 280.75 324.8 281.00 332.8 281.25 324.4 281.50 332.0 281.75 326.0 282.00 331.0 282.25 324.1 282.50 330.3 282.75 323.4 283.00 330.4 283.25 322.8 283.50 330.6 283.75 322.6 284.00 329.9 284.25 323.7 284.50 330.6 284.75 321.3 285.00 329.0 285.25 323.5 285.50 330.8 285.75 321.2 286.00 329.9 286.25 320.9 286.50 328.5 286.75 319.5 287.00 329.3 287.25 320.8 287.50 329.9 287.75 319.8 288.00 327.8 288.25 322.2 288.50 327.5 288.75 321.0 289.00 325.7 289.25 321.2 289.50 327.5 289.75 320.4 290.00 328.1 290.25 320.0 290.50 326.0 290.75 320.1 291.00 325.6 291.25 319.4 291.50 326.3 291.75 318.2 292.00 325.6 292.25 319.8 292.50 325.9 292.75 319.3 293.00 327.7 293.25 320.4 293.50 327.0 293.75 320.9 294.00 326.6 294.25 321.1 294.50 326.7 294.75 320.9 295.00 326.8 295.25 319.6 295.50 325.6 295.75 319.3 296.00 327.5 296.25 316.4 296.50 327.6 296.75 318.2 297.00 323.3 297.25 318.1 297.50 325.0 297.75 317.1 298.00 322.4 298.25 314.0 298.50 322.1 298.75 315.5 299.00 321.9 299.25 315.9 299.50 321.3 299.75 314.0 300.00 321.8 300.25 313.7 300.50 320.3 300.75 315.9 301.00 321.7 301.25 314.6 301.50 321.7 301.75 315.6 302.00 323.0 302.25 313.9 302.50 322.5 302.75 316.0 303.00 322.9 303.25 314.9 303.50 323.0 303.75 314.6 304.00 322.6 304.25 315.6 304.50 323.6 304.75 313.5 305.00 324.5 305.25 315.8 305.50 321.5 305.75 316.0 306.00 322.5 306.25 313.0 306.50 321.3 306.75 315.4 307.00 321.8 307.25 315.5 307.50 321.7 307.75 315.6 308.00 321.7 308.25 312.8 308.50 322.0 308.75 313.3 309.00 321.0 309.25 316.0 309.50 320.5 309.75 315.7 310.00 321.6 310.25 315.6 310.50 321.0 310.75 313.3 311.00 320.6 311.25 315.2 311.50 321.9 311.75 312.1 312.00 319.6 312.25 313.5 312.50 322.8 312.75 314.7 313.00 320.1 313.25 314.8 313.50 319.7 313.75 313.3 314.00 320.1 314.25 314.2 314.50 319.9 314.75 312.2 315.00 324.3 315.25 314.0 315.50 319.7 315.75 314.0 316.00 321.1 316.25 311.8 316.50 319.6 316.75 314.3 317.00 320.0 317.25 312.1 317.50 321.6 317.75 310.9 318.00 320.3 318.25 314.4 318.50 319.2 318.75 311.9 319.00 320.2 319.25 313.7 319.50 320.0 319.75 314.0 320.00 322.4 320.25 313.2 320.50 320.6 320.75 313.9 321.00 320.6 321.25 313.9 321.50 322.6 321.75 312.0 322.00 321.2 322.25 313.3 322.50 321.2 322.75 314.6 323.00 320.3 323.25 312.3 323.50 321.5 323.75 314.2 324.00 320.3 324.25 314.6 324.50 318.6 324.75 311.5 325.00 319.7 325.25 312.5 325.50 319.5 325.75 313.4 326.00 320.3 326.25 313.9 326.50 319.6 326.75 313.9 327.00 318.2 327.25 313.2 327.50 321.0 327.75 313.4 328.00 319.6 328.25 312.9 328.50 319.7 328.75 313.1 329.00 318.3 329.25 312.9 329.50 322.5 329.75 312.5 330.00 319.5 330.25 313.3 330.50 320.2 330.75 313.7 331.00 319.9 331.25 313.1 331.50 318.6 331.75 313.2 332.00 319.3 332.25 314.7 332.50 319.5 332.75 314.1 333.00 318.8 333.25 313.2 333.50 319.7 333.75 314.0 334.00 320.1 334.25 312.7 334.50 319.6 334.75 313.8 335.00 321.3 335.25 314.4 335.50 320.1 335.75 314.0 336.00 320.1 336.25 313.9 336.50 321.3 336.75 312.8 337.00 320.5 337.25 314.6 337.50 321.6 337.75 313.6 338.00 320.5 338.25 314.4 338.50 320.6 338.75 314.2 339.00 320.7 339.25 315.5 339.50 321.0 339.75 315.4 340.00 321.1 340.25 314.7 340.50 321.0 340.75 312.3 341.00 322.2 341.25 314.6 341.50 322.9 341.75 314.0 342.00 319.6 342.25 314.0 342.50 320.0 342.75 314.3 343.00 323.4 343.25 313.6 343.50 324.1 343.75 313.7 344.00 320.4 344.25 314.1 344.50 320.1 344.75 312.5 345.00 320.7 345.25 312.0 345.50 320.2 345.75 311.8 346.00 321.6 346.25 314.2 346.50 320.3 346.75 314.0 347.00 319.3 347.25 313.7 347.50 319.8 347.75 313.6 348.00 318.3 348.25 312.0 348.50 319.5 348.75 311.5 349.00 320.3 349.25 311.9 349.50 319.6 349.75 312.9 350.00 318.7 350.25 312.6 350.50 318.8 350.75 313.0 351.00 319.1 351.25 313.2 351.50 318.3 351.75 314.2 352.00 320.3 352.25 312.6 352.50 319.2 352.75 314.7 353.00 319.5 353.25 313.0 353.50 320.1 353.75 312.0 354.00 320.4 354.25 315.5 354.50 321.3 354.75 315.7 355.00 321.3 355.25 311.5 355.50 321.7 355.75 314.5 356.00 321.2 356.25 316.5 356.50 321.0 356.75 314.6 357.00 322.6 357.25 315.8 357.50 321.5 357.75 316.2 358.00 323.2 358.25 317.2 358.50 323.9 358.75 317.5 359.00 323.3 359.25 318.0 359.50 324.1 359.75 317.2 360.00 323.1 360.25 317.9 360.50 323.4 360.75 312.7 361.00 322.6 361.25 315.8 361.50 322.3 361.75 317.9 362.00 323.4 362.25 317.3 362.50 323.5 362.75 317.8 363.00 322.2 363.25 317.2 363.50 323.0 363.75 317.3 364.00 322.2 364.25 317.6 364.50 322.9 364.75 318.1 365.00 323.6 365.25 318.5 365.50 323.9 365.75 317.9 366.00 323.0 366.25 319.1 366.50 324.8 366.75 317.5 367.00 324.2 367.25 318.1 367.50 324.3 367.75 318.6 368.00 326.7 368.25 319.5 368.50 325.9 368.75 317.4 369.00 325.8 369.25 318.4 369.50 325.6 369.75 320.3 370.00 327.9 370.25 318.9 370.50 326.9 370.75 320.8 371.00 327.4 371.25 321.8 371.50 327.7 371.75 320.4 372.00 328.6 372.25 320.8 372.50 328.9 372.75 321.9 373.00 329.2 373.25 323.4 373.50 329.4 373.75 323.6 374.00 329.2 374.25 323.9 374.50 331.4 374.75 321.3 375.00 332.1 375.25 323.4 375.50 329.4 375.75 323.7 376.00 329.4 376.25 321.2 376.50 331.0 376.75 322.5 377.00 329.9 377.25 323.3 377.50 330.5 377.75 321.9 378.00 330.4 378.25 321.2 378.50 330.1 378.75 322.1 379.00 330.1 379.25 323.1 379.50 330.8 379.75 323.3 380.00 330.8 380.25 323.7 380.50 332.2 380.75 322.6 381.00 329.0 381.25 322.7 381.50 329.2 381.75 324.1 382.00 328.8 382.25 323.3 382.50 331.4 382.75 323.7 383.00 329.6 383.25 323.3 383.50 328.7 383.75 322.7 384.00 329.0 384.25 324.4 384.50 330.7 384.75 322.9 385.00 328.8 385.25 323.8 385.50 329.7 385.75 323.6 386.00 329.9 386.25 323.7 386.50 329.4 386.75 322.9 387.00 331.0 387.25 324.7 387.50 331.8 387.75 324.1 388.00 330.7 388.25 325.9 388.50 331.6 388.75 325.3 389.00 332.7 389.25 326.0 389.50 332.7 389.75 324.2 390.00 331.3 390.25 325.9 390.50 332.4 390.75 326.0 391.00 332.3 391.25 325.5 391.50 331.9 391.75 325.9 392.00 331.0 392.25 323.4 392.50 331.8 392.75 324.7 393.00 330.8 393.25 321.7 393.50 329.9 393.75 320.2 394.00 329.2 394.25 321.9 394.50 328.1 394.75 321.0 395.00 328.1 395.25 317.0 395.50 326.2 395.75 320.3 396.00 327.8 396.25 319.1 396.50 326.1 396.75 319.4 397.00 325.6 397.25 320.4 397.50 325.6 397.75 318.1 398.00 326.2 398.25 319.7 398.50 326.9 398.75 318.7 399.00 326.2 399.25 321.2 399.50 326.8 399.75 319.0 400.00 327.4 400.25 320.7 400.50 327.3 400.75 320.2 401.00 328.7 401.25 319.0 401.50 326.3 401.75 318.6 402.00 327.0 402.25 320.3 402.50 327.9 402.75 321.7 403.00 327.1 403.25 319.6 403.50 328.8 403.75 319.5 404.00 331.2 404.25 319.1 404.50 327.9 404.75 320.4 405.00 328.9 405.25 321.6 405.50 329.2 405.75 319.4 406.00 328.6 406.25 320.4 406.50 327.9 406.75 320.2 407.00 328.0 407.25 322.0 407.50 328.6 407.75 321.4 408.00 328.3 408.25 320.8 408.50 329.1 408.75 321.9 409.00 329.7 409.25 322.3 409.50 328.2 409.75 319.6 410.00 328.1 410.25 323.0 410.50 329.6 410.75 321.8 411.00 328.2 411.25 321.3 411.50 329.1 411.75 322.3 412.00 328.7 412.25 320.3 412.50 328.8 412.75 323.2 413.00 328.6 413.25 322.7 413.50 331.0 413.75 322.4 414.00 328.7 414.25 321.5 414.50 329.7 414.75 323.4 415.00 329.6 415.25 320.9 415.50 329.6 415.75 323.4 416.00 331.3 416.25 324.2 416.50 329.7 416.75 324.0 417.00 330.1 417.25 323.8 417.50 331.4 417.75 324.8 418.00 330.3 418.25 324.5 418.50 329.7 418.75 323.2 419.00 331.1 419.25 324.8 419.50 330.9 419.75 324.6 420.00 329.9 420.25 324.8 420.50 329.8 420.75 325.4 421.00 332.2 421.25 323.6 421.50 330.7 421.75 325.8 422.00 332.5 422.25 325.4 422.50 330.6 422.75 323.1 423.00 331.5 423.25 324.4 423.50 332.2 423.75 322.4 424.00 331.6 424.25 322.3 424.50 330.1 424.75 323.9 425.00 331.6 425.25 322.5 425.50 330.8 425.75 323.2 426.00 330.2 426.25 322.7 426.50 330.7 426.75 319.6 427.00 330.3 427.25 323.7 427.50 331.0 427.75 322.9 428.00 328.9 428.25 320.1 428.50 329.6 428.75 323.2 429.00 328.7 429.25 322.8 429.50 331.1 429.75 321.1 430.00 327.9 430.25 321.5 430.50 328.7 430.75 322.2 431.00 329.7 431.25 322.4 431.50 328.4 431.75 320.1 432.00 329.6 432.25 320.8 432.50 329.3 432.75 319.5 433.00 329.3 433.25 321.1 433.50 328.0 433.75 321.2 434.00 330.2 434.25 321.5 434.50 328.9 434.75 322.3 435.00 328.2 435.25 321.4 435.50 328.8 435.75 321.3 436.00 327.6 436.25 318.1 436.50 328.1 436.75 322.1 437.00 329.2 437.25 321.4 437.50 330.2 437.75 322.3 438.00 328.7 438.25 320.4 438.50 328.5 438.75 322.1 439.00 327.9 439.25 320.6 439.50 327.3 439.75 321.5 440.00 327.9 440.25 320.6 440.50 330.8 440.75 320.7 441.00 327.1 441.25 319.5 441.50 326.3 441.75 320.6 442.00 326.0 442.25 318.3 442.50 327.9 442.75 320.4 443.00 326.3 443.25 318.7 443.50 325.5 443.75 320.3 444.00 325.8 444.25 317.9 444.50 326.0 444.75 318.3 445.00 325.8 445.25 318.9 445.50 327.3 445.75 319.1 446.00 326.1 446.25 319.8 446.50 326.4 446.75 320.4 447.00 326.7 447.25 318.6 447.50 326.4 447.75 320.7 448.00 328.1 448.25 321.7 448.50 328.1 448.75 319.4 449.00 327.7 449.25 319.5 449.50 327.4 449.75 320.6 450.00 331.6 450.25 321.5 450.50 327.9 450.75 319.5 451.00 328.8 451.25 321.7 451.50 328.4 451.75 321.2 452.00 331.6 452.25 321.9 452.50 329.1 452.75 322.0 453.00 328.2 453.25 321.0 453.50 330.5 453.75 321.9 454.00 330.7 454.25 321.2 454.50 330.3 454.75 322.3 455.00 329.9 455.25 322.4 455.50 331.2 455.75 322.6 456.00 330.0 456.25 323.5 456.50 329.5 456.75 323.2 457.00 331.2 457.25 323.6 457.50 331.6 457.75 323.6 458.00 331.1 458.25 324.2 458.50 331.4 458.75 324.3 459.00 330.7 459.25 323.9 459.50 331.9 459.75 323.9 460.00 331.0 460.25 324.0 460.50 332.4 460.75 325.1 461.00 331.0 461.25 323.3 461.50 331.8 461.75 324.8 462.00 332.3 462.25 325.2 462.50 332.0 462.75 326.3 463.00 333.1 463.25 325.2 463.50 334.6 463.75 326.0 464.00 334.0 464.25 326.2 464.50 336.2 464.75 327.3 465.00 333.0 465.25 326.1 465.50 333.6 465.75 327.1 466.00 335.5 466.25 328.2 466.50 333.4 466.75 329.3 467.00 335.1 467.25 326.2 467.50 334.6 467.75 328.6 468.00 335.3 468.25 328.9 468.50 336.9 468.75 327.9 469.00 336.4 469.25 329.7 469.50 338.1 469.75 330.0 470.00 336.2 470.25 330.0 470.50 337.1 470.75 330.7 471.00 337.4 471.25 330.6 471.50 335.8 471.75 329.9 472.00 338.3 472.25 329.1 472.50 339.8 472.75 331.8 473.00 339.6 473.25 329.5 473.50 338.6 473.75 332.5 474.00 337.7 474.25 331.8 474.50 338.9 474.75 332.1 475.00 336.9 475.25 332.0 475.50 338.8 475.75 332.6 476.00 338.6 476.25 334.1 476.50 339.7 476.75 334.9 477.00 339.7 477.25 334.9 477.50 339.9 477.75 334.4 478.00 339.9 478.25 334.5 478.50 340.4 478.75 334.6 479.00 341.0 479.25 335.7 479.50 341.5 479.75 336.6 480.00 341.0 480.25 336.3 480.50 341.2 480.75 336.7 481.00 342.3 481.25 337.3 481.50 342.3 481.75 337.1 482.00 344.2 482.25 336.6 482.50 343.0 482.75 337.3 483.00 343.9 483.25 337.2 483.50 344.2 483.75 339.0 484.00 343.5 484.25 337.3 484.50 343.7 484.75 337.7 485.00 342.9 485.25 337.5 485.50 343.3 485.75 338.5 486.00 342.2 486.25 337.8 486.50 343.4 486.75 336.4 487.00 341.9 487.25 336.8 487.50 342.6 487.75 336.4 488.00 343.2 488.25 337.3 488.50 342.0 488.75 335.0 489.00 342.7 489.25 336.8 489.50 342.4 489.75 336.5 490.00 341.6 490.25 336.5 490.50 342.4 490.75 336.1 491.00 343.5 491.25 337.0 491.50 345.1 491.75 336.9 492.00 342.6 492.25 336.9 492.50 342.2 492.75 336.5 493.00 342.9 493.25 337.8 493.50 341.3 493.75 337.3 494.00 342.1 494.25 337.4 494.50 344.5 494.75 338.1 495.00 342.9 495.25 338.2 495.50 343.6 495.75 338.6 496.00 344.5 496.25 339.6 496.50 345.6 496.75 338.9 497.00 346.1 497.25 339.7 497.50 345.3 497.75 339.3 498.00 347.6 498.25 338.9 498.50 347.5 498.75 341.5 499.00 347.0 499.25 340.5 499.50 346.5 499.75 341.5 500.00 347.6 500.25 340.1 500.50 346.5 500.75 341.5 501.00 348.3 501.25 342.7 501.50 347.6 501.75 340.3 502.00 348.0 502.25 340.2 502.50 347.5 502.75 340.3 503.00 347.3 503.25 340.5 503.50 349.2 503.75 342.1 504.00 347.8 504.25 341.2 504.50 349.9 504.75 342.0 505.00 348.3 505.25 336.7 505.50 347.7 505.75 339.1 506.00 348.0 506.25 341.8 506.50 349.3 506.75 341.8 507.00 349.2 507.25 342.8 507.50 351.4 507.75 343.9 508.00 351.9 508.25 344.5 508.50 349.9 508.75 344.5 509.00 351.0 509.25 344.7 509.50 351.2 509.75 345.8 510.00 351.1 510.25 346.5 510.50 351.0 510.75 344.7 511.00 352.3 511.25 345.5 511.50 351.1 511.75 344.9 512.00 351.7 512.25 345.4 512.50 352.8 512.75 344.8 513.00 352.3 513.25 346.8 513.50 352.4 513.75 344.7 514.00 354.2 514.25 347.3 514.50 353.4 514.75 345.7 515.00 353.9 515.25 348.2 515.50 354.2 515.75 347.7 516.00 355.3 516.25 348.6 516.50 355.0 516.75 346.1 517.00 353.2 517.25 347.2 517.50 354.9 517.75 347.0 518.00 355.5 518.25 347.9 518.50 354.6 518.75 347.8 519.00 354.2 519.25 348.8 519.50 354.4 519.75 347.9 520.00 353.8 520.25 347.0 520.50 355.2 520.75 347.2 521.00 353.4 521.25 346.9 521.50 354.1 521.75 347.0 522.00 354.3 522.25 345.8 522.50 353.6 522.75 345.6 523.00 351.7 523.25 345.1 523.50 354.0 523.75 344.7 524.00 353.7 524.25 345.7 524.50 352.2 524.75 344.0 525.00 354.6 525.25 345.8 525.50 351.6 525.75 345.3 526.00 351.7 526.25 344.3 526.50 352.1 526.75 342.7 527.00 352.8 527.25 344.1 527.50 354.1 527.75 343.3 528.00 350.8 528.25 344.9 528.50 352.7 528.75 344.0 529.00 354.0 529.25 345.4 529.50 352.3 529.75 343.1 530.00 351.5 530.25 346.2 530.50 352.1 530.75 345.8 531.00 351.0 531.25 345.3 531.50 352.7 531.75 344.8 532.00 353.6 532.25 345.8 532.50 351.8 532.75 343.8 533.00 351.2 533.25 345.2 533.50 351.5 533.75 344.8 534.00 351.4 534.25 344.6 534.50 351.8 534.75 343.6 535.00 352.4 535.25 344.5 535.50 351.3 535.75 344.6 536.00 352.2 536.25 345.1 536.50 351.8 536.75 344.5 537.00 352.7 537.25 339.6 537.50 352.4 537.75 344.2 538.00 350.2 538.25 343.7 538.50 353.8 538.75 344.5 539.00 350.0 539.25 344.5 539.50 349.8 539.75 343.8 540.00 350.1 540.25 342.5 540.50 352.1 540.75 342.7 541.00 350.6 541.25 344.2 541.50 350.9 541.75 344.4 542.00 350.5 542.25 345.3 542.50 350.4 542.75 344.3 543.00 349.6 543.25 345.1 543.50 349.9 543.75 343.4 544.00 352.9 544.25 344.1 544.50 349.7 544.75 344.7 545.00 351.5 545.25 344.7 545.50 350.3 545.75 343.6 546.00 349.7 546.25 342.4 546.50 349.7 546.75 340.5 547.00 350.7 547.25 343.6 547.50 350.4 547.75 342.1 548.00 351.5 548.25 344.6 548.50 349.9 548.75 344.9 549.00 350.1 549.25 342.5 549.50 349.7 549.75 342.6 550.00 348.9 550.25 343.2 550.50 348.9 550.75 342.8 551.00 349.6 551.25 341.1 551.50 348.2 551.75 340.6 552.00 348.0 552.25 340.4 552.50 348.5 552.75 341.2 553.00 348.4 553.25 340.1 553.50 346.8 553.75 339.2 554.00 346.7 554.25 341.4 554.50 350.2 554.75 336.8 555.00 347.1 555.25 341.3 555.50 345.2 555.75 339.2 556.00 347.0 556.25 338.8 556.50 348.7 556.75 339.5 557.00 347.3 557.25 340.0 557.50 346.1 557.75 339.3 558.00 345.8 558.25 339.1 558.50 347.5 558.75 339.5 559.00 347.4 559.25 338.5 559.50 345.4 559.75 340.2 560.00 345.5 560.25 338.9 560.50 346.0 560.75 340.0 561.00 346.2 561.25 339.6 561.50 345.5 561.75 340.2 562.00 346.2 562.25 339.9 562.50 345.0 562.75 338.1 563.00 345.2 563.25 338.6 563.50 344.5 563.75 339.5 564.00 345.8 564.25 339.1 564.50 345.4 564.75 340.2 565.00 345.4 565.25 338.2 565.50 344.8 565.75 339.4 566.00 345.5 566.25 339.3 566.50 345.4 566.75 339.0 567.00 344.2 567.25 338.6 567.50 343.8 567.75 339.4 568.00 344.5 568.25 338.5 568.50 345.5 568.75 339.1 569.00 344.1 569.25 337.6 569.50 344.5 569.75 337.4 570.00 344.6 570.25 335.2 570.50 343.8 570.75 337.5 571.00 343.4 571.25 336.7 571.50 344.6 571.75 335.0 572.00 343.6 572.25 337.3 572.50 344.1 572.75 337.6 573.00 346.6 573.25 338.0 573.50 343.8 573.75 337.5 574.00 344.2 574.25 336.3 574.50 345.5 574.75 337.8 575.00 346.0 575.25 338.0 575.50 343.5 575.75 338.3 576.00 344.9 576.25 336.7 576.50 345.3 576.75 338.5 577.00 344.4 577.25 336.8 577.50 344.9 577.75 337.1 578.00 343.7 578.25 337.1 578.50 343.8 578.75 339.3 579.00 344.4 579.25 337.8 579.50 344.7 579.75 338.2 580.00 343.8 580.25 338.0 580.50 344.4 580.75 339.9 581.00 344.0 581.25 338.4 581.50 345.2 581.75 335.7 582.00 347.2 582.25 338.0 582.50 344.4 582.75 337.0 583.00 345.6 583.25 336.0 583.50 344.2 583.75 333.7 584.00 345.0 584.25 337.8 584.50 344.2 584.75 336.2 585.00 343.7 585.25 337.1 585.50 346.1 585.75 336.3 586.00 343.5 586.25 334.0 586.50 345.1 586.75 332.4 587.00 344.7 587.25 334.2 587.50 342.8 587.75 336.8 588.00 342.7 588.25 335.8 588.50 342.3 588.75 333.8 589.00 344.1 589.25 335.6 589.50 342.2 589.75 336.2 590.00 342.2 590.25 335.8 590.50 342.5 590.75 334.6 591.00 341.7 591.25 335.1 591.50 344.2 591.75 335.9 592.00 343.5 592.25 335.8 592.50 344.9 592.75 335.2 593.00 342.9 593.25 333.2 593.50 343.3 593.75 335.6 594.00 342.5 594.25 336.4 594.50 342.8 594.75 336.8 595.00 344.6 595.25 333.5 595.50 344.3 595.75 335.3 596.00 342.6 596.25 335.8 596.50 341.9 596.75 335.8 597.00 342.3 597.25 335.2 597.50 341.9 597.75 335.2 598.00 342.6 598.25 336.1 598.50 342.7 598.75 333.6 599.00 343.1 599.25 335.1 599.50 341.8 599.75 334.6 600.00 341.8 600.25 334.0 600.50 341.9 600.75 336.0 601.00 343.2 601.25 335.9 601.50 341.9 601.75 334.7 602.00 342.1 602.25 335.5 602.50 344.1 602.75 333.9 603.00 346.1 603.25 335.1 603.50 342.1 603.75 335.0 604.00 342.2 604.25 332.9 604.50 342.3 604.75 334.6 605.00 344.2 605.25 336.6 605.50 344.6 605.75 335.8 606.00 345.1 606.25 336.6 606.50 343.5 606.75 337.0 607.00 347.4 607.25 335.5 607.50 344.8 607.75 337.2 608.00 344.2 608.25 337.2 608.50 346.3 608.75 338.5 609.00 345.7 609.25 339.6 609.50 345.6 609.75 338.6 610.00 346.1 610.25 339.5 610.50 346.8 610.75 340.4 611.00 345.4 611.25 339.3 611.50 345.3 611.75 337.9 612.00 348.3 612.25 339.1 612.50 345.7 612.75 338.0 613.00 346.7 613.25 338.8 613.50 347.7 613.75 340.4 614.00 346.1 614.25 339.9 614.50 348.1 614.75 340.6 615.00 347.1 615.25 337.9 615.50 344.7 615.75 338.1 616.00 345.7 616.25 337.8 616.50 345.6 616.75 336.5 617.00 345.2 617.25 339.7 617.50 345.8 617.75 336.4 618.00 344.9 618.25 338.4 618.50 344.9 618.75 339.0 619.00 345.6 619.25 337.9 619.50 345.2 619.75 336.8 620.00 345.8 620.25 340.1 620.50 346.0 620.75 340.4 621.00 345.5 621.25 339.4 621.50 346.1 621.75 339.3 622.00 346.4 622.25 339.2 622.50 347.1 622.75 340.2 623.00 347.5 623.25 340.7 623.50 347.6 623.75 342.6 624.00 347.1 624.25 341.8 624.50 347.6 624.75 342.3 625.00 348.7 625.25 341.8 625.50 347.5 625.75 341.3 626.00 347.5 626.25 342.1 626.50 347.6 626.75 341.3 627.00 348.2 627.25 343.2 627.50 348.7 627.75 342.5 628.00 347.7 628.25 342.8 628.50 348.4 628.75 341.8 629.00 347.7 629.25 338.3 629.50 348.0 629.75 342.7 630.00 348.8 630.25 341.7 630.50 347.7 630.75 341.4 631.00 347.6 631.25 341.6 631.50 346.3 631.75 340.5 632.00 347.3 632.25 340.6 632.50 346.0 632.75 341.1 633.00 346.5 633.25 340.8 633.50 347.1 633.75 341.2 634.00 347.0 634.25 340.1 634.50 345.5 634.75 339.7 635.00 347.1 635.25 341.6 635.50 348.6 635.75 342.6 636.00 347.9 636.25 340.8 636.50 348.8 636.75 340.7 637.00 348.6 637.25 341.0 637.50 348.0 637.75 342.0 638.00 348.9 638.25 342.9 638.50 353.4 638.75 343.7 639.00 351.6 639.25 343.6 639.50 351.8 639.75 345.6 640.00 350.6 640.25 343.5 640.50 351.2 640.75 341.8 641.00 349.8 641.25 343.6 641.50 350.8 641.75 343.8 642.00 352.1 642.25 343.4 642.50 349.3 642.75 343.0 643.00 351.0 643.25 342.7 643.50 350.2 643.75 343.2 644.00 351.4 644.25 342.4 644.50 350.5 644.75 341.6 645.00 348.5 645.25 341.8 645.50 350.3 645.75 341.4 646.00 350.7 646.25 342.0 646.50 349.0 646.75 340.7 647.00 348.6 647.25 341.1 647.50 347.5 647.75 339.2 648.00 346.5 648.25 340.9 648.50 346.0 648.75 339.1 649.00 347.3 649.25 340.2 649.50 346.0 649.75 338.9 650.00 346.4 650.25 339.7 650.50 348.0 650.75 339.3 651.00 344.9 651.25 339.4 651.50 345.4 651.75 339.8 652.00 346.0 652.25 338.7 652.50 346.1 652.75 337.0 653.00 344.8 653.25 338.9 653.50 345.7 653.75 337.5 654.00 345.8 654.25 339.5 654.50 346.6 654.75 339.3 655.00 344.9 655.25 336.5 655.50 345.5 655.75 337.4 656.00 346.2 656.25 340.6 656.50 349.0 656.75 339.7 657.00 350.0 657.25 342.0 657.50 348.6 657.75 341.3 658.00 347.9 658.25 341.7 658.50 349.8 658.75 342.0 659.00 351.1 659.25 340.0 659.50 349.5 659.75 342.9 660.00 348.3 660.25 341.8 660.50 350.4 660.75 334.1 661.00 350.0 661.25 343.8 661.50 351.1 661.75 341.4 662.00 348.4 662.25 341.0 662.50 351.7 662.75 342.2 663.00 349.7 663.25 341.1 663.50 349.8 663.75 341.9 664.00 349.5 664.25 339.2 664.50 349.1 664.75 341.8 665.00 348.7 665.25 339.9 665.50 347.0 665.75 339.1 666.00 347.6 666.25 340.9 666.50 346.6 666.75 341.0 667.00 348.1 667.25 338.6 667.50 346.2 667.75 336.2 668.00 345.4 668.25 340.8 668.50 346.6 668.75 338.1 669.00 344.5 669.25 339.0 669.50 343.8 669.75 338.2 670.00 344.6 670.25 337.9 670.50 345.7 670.75 336.9 671.00 344.4 671.25 338.1 671.50 344.0 671.75 337.5 672.00 344.7 672.25 337.0 672.50 344.6 672.75 337.8 673.00 345.6 673.25 338.3 673.50 344.6 673.75 337.0 674.00 345.9 674.25 338.1 674.50 345.2 674.75 337.0 675.00 345.0 675.25 338.0 675.50 345.5 675.75 335.7 676.00 343.8 676.25 336.0 676.50 345.3 676.75 335.1 677.00 341.9 677.25 336.1 677.50 342.6 677.75 333.9 678.00 343.5 678.25 334.3 678.50 340.9 678.75 334.1 679.00 341.2 679.25 335.3 679.50 341.6 679.75 334.0 680.00 340.8 680.25 332.8 680.50 341.7 680.75 331.4 681.00 339.9 681.25 333.8 681.50 340.1 681.75 333.7 682.00 339.2 682.25 331.8 682.50 339.0 682.75 334.2 683.00 338.2 683.25 332.1 683.50 340.4 683.75 333.1 684.00 338.3 684.25 333.0 684.50 338.5 684.75 332.4 685.00 338.6 685.25 332.5 685.50 340.2 685.75 331.9 686.00 341.9 686.25 333.4 686.50 342.5 686.75 333.7 687.00 340.9 687.25 336.2 687.50 341.0 687.75 333.4 688.00 342.5 688.25 334.9 688.50 341.5 688.75 335.5 689.00 342.7 689.25 337.2 689.50 343.4 689.75 336.1 690.00 344.2 690.25 334.4 690.50 342.4 690.75 337.9 691.00 344.3 691.25 338.2 691.50 344.0 691.75 337.2 692.00 344.3 692.25 339.5 692.50 344.3 692.75 339.3 693.00 344.3 693.25 340.2 693.50 345.6 693.75 339.4 694.00 346.8 694.25 339.8 694.50 344.9 694.75 338.1 695.00 344.8 695.25 337.5 695.50 345.4 695.75 337.9 696.00 343.2 696.25 337.4 696.50 344.9 696.75 336.4 697.00 342.9 697.25 336.1 697.50 343.3 697.75 336.6 698.00 343.0 698.25 334.8 698.50 340.2 698.75 333.7 699.00 340.0 699.25 332.5 699.50 340.1 699.75 332.5 700.00 339.1 700.25 333.3 700.50 338.2 700.75 331.7 701.00 336.4 701.25 329.9 701.50 337.6 701.75 332.2 702.00 337.0 702.25 332.4 702.50 338.5 702.75 332.3 703.00 337.1 703.25 333.2 703.50 339.2 703.75 334.1 704.00 338.6 704.25 333.5 704.50 339.1 704.75 335.0 705.00 338.5 705.80 340.7 707.00 350.0" fill="none" stroke="#000" stroke-width="1.3" stroke-linejoin="miter" stroke-miterlimit="2"/>
<path d="M74.54 509.99 74.47 509.09 75.22 508.39 75.06 507.47 75.24 506.76 75.26 506.02 75.65 505.34 75.50 504.57 75.61 503.84 75.95 503.16 76.18 502.45 76.04 501.68 76.44 501.00 76.39 500.24 76.90 499.54 76.39 498.72 77.10 498.04 76.80 497.24 76.95 496.50 76.80 495.72 77.29 495.02 77.01 494.22 77.21 493.49 77.08 492.71 77.39 491.99 77.90 491.30 77.99 490.57 77.90 489.83 77.46 489.04 78.19 488.38 78.22 487.64 78.23 486.90 77.89 486.13 77.91 485.39 78.21 484.69 78.61 483.99 78.48 483.24 78.67 482.51 78.35 481.74 78.60 481.00 78.77 480.26 78.89 479.51 78.91 478.76 78.55 477.99 79.04 477.26 78.62 476.49 79.07 475.76 78.94 475.00 78.74 474.26 79.07 473.55 79.08 472.82 79.44 472.11 78.85 471.34 78.99 470.62 79.62 469.93 79.57 469.20 79.15 468.44 79.26 467.71 79.53 467.00 79.32 466.25 79.49 465.54 79.35 464.79 79.87 464.10 79.48 463.34 80.17 462.66 80.18 461.93 80.14 461.20 80.18 460.47 79.95 459.72 80.22 459.01 80.35 458.30 80.23 457.55 80.01 456.80 80.48 456.12 80.34 455.38 80.61 454.67 80.55 453.94 80.99 453.25 80.54 452.48 81.01 451.80 81.03 451.07 81.01 450.34 80.75 449.58 80.88 448.87 81.51 448.20 81.07 447.43 81.09 446.70 81.25 445.98 81.52 445.28 81.60 444.56 81.34 443.79 81.43 443.07 81.87 442.39 81.75 441.64 82.14 440.95 82.36 440.25 81.97 439.46 82.35 438.78 82.37 438.05 82.73 437.36 82.94 436.65 82.66 435.88 82.64 435.14 83.17 434.48 82.68 433.68 82.98 432.98 83.14 432.27 83.10 431.52 83.56 430.85 83.56 430.11 83.48 429.36 83.71 428.66 84.01 427.96 83.87 427.20 83.80 426.45 84.18 425.77 84.11 425.02 84.52 424.35 84.34 423.58 84.40 422.85 85.04 422.21 84.76 421.43 84.85 420.70 85.13 420.00 85.33 419.31 85.42 418.60 85.61 417.90 85.33 417.13 85.55 416.44 85.61 415.72 85.81 415.03 85.95 414.32 86.09 413.62 85.80 412.85 86.11 412.17 86.44 411.49 86.08 410.72 86.67 410.08 86.73 409.36 86.63 408.62 86.76 407.92 86.74 407.19 87.16 406.54 87.17 405.81 87.22 405.08 87.24 404.35 87.65 403.72 88.22 403.14 88.24 402.41 88.40 401.71 88.77 401.14 88.58 400.10 89.31 399.53 89.43 398.65 90.00 398.00M705.17 337.48 705.49 338.25 705.55 339.08 705.35 339.96 705.64 340.72 705.65 341.45 706.28 342.09 706.22 342.83 705.97 343.59 706.58 344.24 706.57 344.96 706.74 345.67 706.32 346.45 706.82 347.11 706.78 347.85 707.15 348.53 707.18 349.25 706.99 350.00 706.87 350.73 707.25 351.42 707.34 352.13 707.61 352.83 707.64 353.54 707.67 354.26 707.70 354.98 707.52 355.72 707.74 356.42 707.38 357.18 707.94 357.84 707.61 358.60 708.21 359.26 707.98 360.00 708.03 360.74 708.02 361.48 708.26 362.19 708.25 362.93 708.14 363.68 708.64 364.38 708.44 365.14 708.47 365.87 708.40 366.62 708.90 367.31 708.79 368.06 709.13 368.77 708.75 369.54 708.68 370.29 709.10 370.99 708.84 371.73 709.00 372.44 709.51 373.12 709.25 373.86 709.60 374.55 709.47 375.28 709.19 376.02 709.72 376.69 709.47 377.43 709.88 378.12 709.90 378.84 709.37 379.60 710.02 380.26 710.03 380.98 709.55 381.74 710.05 382.42 710.17 383.13 710.31 383.83 710.09 384.57 710.45 385.26 710.39 385.98 710.48 386.71 710.20 387.49 710.69 388.17 710.49 388.94 710.81 389.65 710.38 390.44 710.47 391.17 710.60 391.90 710.70 392.63 711.03 393.34 710.85 394.10 711.14 394.81 711.56 395.51 711.25 396.29 711.26 397.03 711.93 397.65 711.90 398.36 711.59 399.11 711.70 399.81 711.94 400.48 712.33 401.14 712.33 401.85 712.45 402.54 712.03 403.30 712.65 403.93 712.64 404.64 712.51 405.36 712.63 406.06 712.79 406.74 712.83 407.45 712.77 408.16 712.84 408.86 713.49 409.48 713.64 410.17 713.12 410.95 713.22 411.64 713.69 412.29 713.79 413.02 713.71 413.78 714.01 414.48 714.34 415.18 714.37 415.93 714.45 416.67 714.39 417.43 714.78 418.11 714.51 418.91 714.46 419.67 714.99 420.33 714.98 421.08 715.05 421.82 715.06 422.57 715.29 423.28 715.49 424.00 715.47 424.72 716.08 425.33 715.57 426.14 715.72 426.83 715.98 427.49 716.45 428.13 716.28 428.87 716.81 429.50 716.68 430.23 716.93 430.91 716.82 431.64 717.15 432.30 717.39 432.97 717.03 433.75 717.52 434.38 717.44 435.11 717.60 435.80" fill="none" stroke="#000" stroke-width="2.3" stroke-linejoin="round" stroke-linecap="round"/>
<path d="M351 316.1285714285714V309.5M154.3 347.462V335M413.4 325.5387755102041V311.1M430.6 325.55510204081634V316.5M493.7 339.6795918367347V329.4" fill="none" stroke="#000" stroke-width="1.4"/>
</svg>
</body></html>
